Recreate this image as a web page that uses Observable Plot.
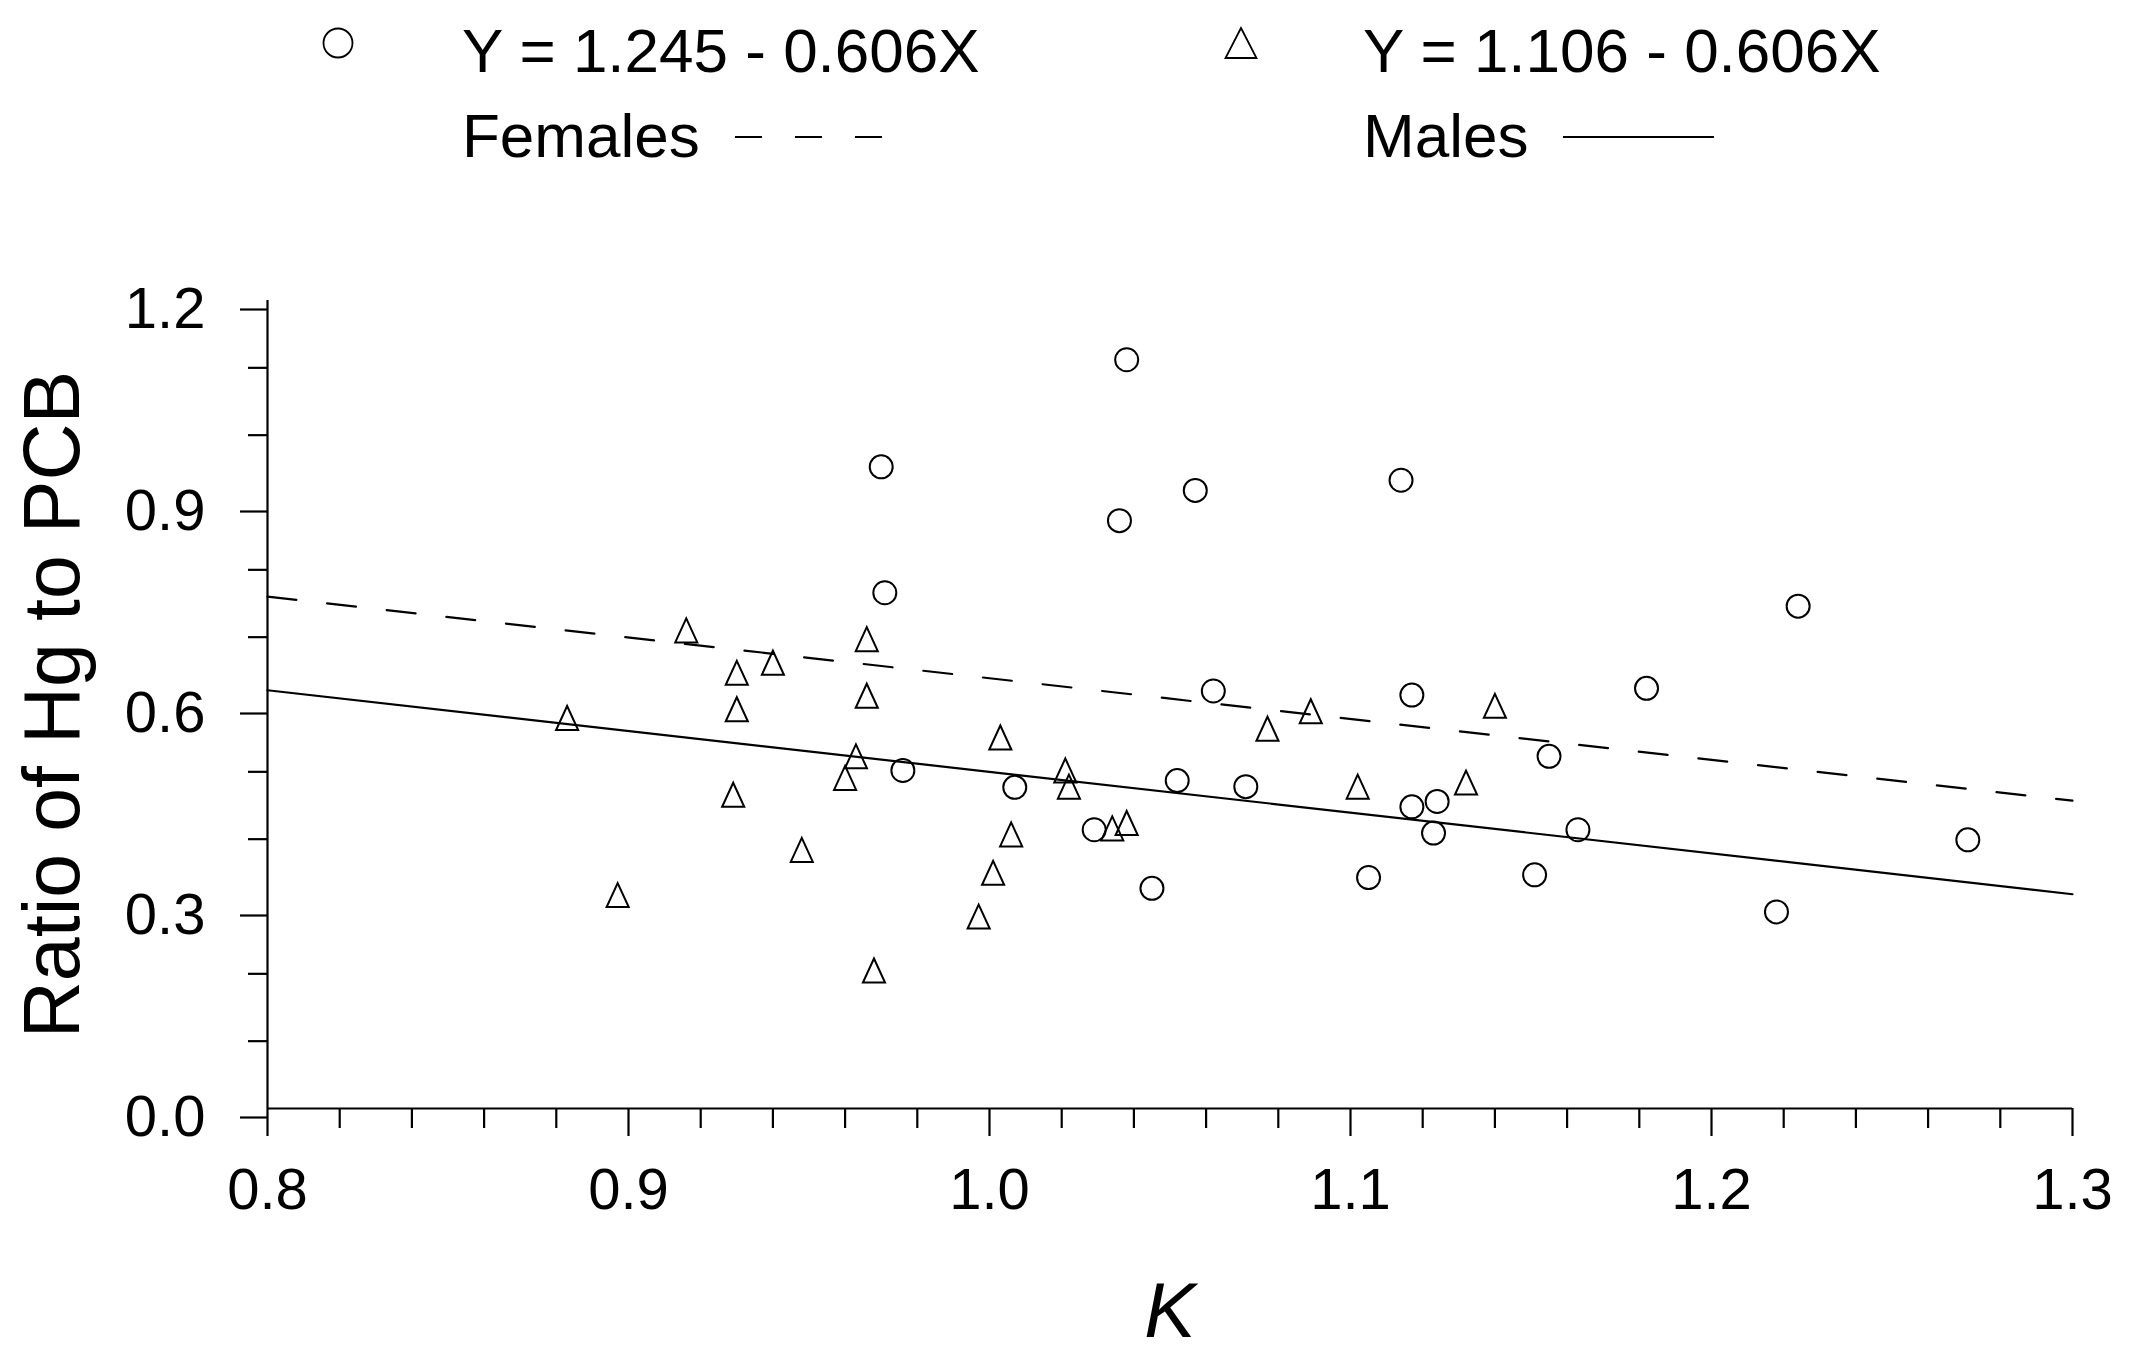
<!DOCTYPE html>
<html>
<head>
<meta charset="utf-8">
<script src="https://cdn.jsdelivr.net/npm/d3@7"></script>
<script src="https://cdn.jsdelivr.net/npm/@observablehq/plot@0.6"></script>
<style>
  html, body { margin: 0; padding: 0; background: #fff; overflow: hidden; }
  #legend { width: 2131px; height: 180px; display: block; }
  #chart svg { display: block; }
</style>
</head>
<body>
<svg id="legend" width="2131" height="180" xmlns="http://www.w3.org/2000/svg"
     font-family="'Liberation Sans', Arial, sans-serif" font-size="62" fill="#000">
  <circle cx="338" cy="43" r="14.5" fill="none" stroke="#000" stroke-width="1.8"></circle>
  <text x="462" y="72">Y = 1.245 - 0.606X</text>
  <text x="462" y="157">Females</text>
  <line x1="735" y1="137" x2="885" y2="137" stroke="#000" stroke-width="2.2" stroke-dasharray="27,33"></line>
  <path d="M1241,28 L1256.5,58 L1225.5,58 Z" fill="none" stroke="#000" stroke-width="1.8"></path>
  <text x="1363" y="72">Y = 1.106 - 0.606X</text>
  <text x="1363" y="157">Males</text>
  <line x1="1563" y1="137" x2="1714" y2="137" stroke="#000" stroke-width="2.2"></line>
</svg>
<div id="chart"></div>
<script>
// Females (circles)
const femaleK = [1.038, 0.970, 1.036, 0.971, 1.057, 0.976, 1.007, 1.029, 1.052, 1.045,
                 1.062, 1.114, 1.117, 1.182, 1.224, 1.155, 1.071, 1.117, 1.124, 1.123,
                 1.163, 1.271, 1.105, 1.151, 1.218];
const femaleRatio = [1.112, 0.953, 0.873, 0.766, 0.918, 0.502, 0.477, 0.414, 0.487, 0.327,
                     0.620, 0.933, 0.614, 0.624, 0.746, 0.523, 0.478, 0.448, 0.456, 0.409,
                     0.414, 0.399, 0.343, 0.347, 0.292];
// Males (triangles)
const maleK = [0.916, 0.930, 0.940, 0.966, 0.966, 0.930, 0.883, 1.003, 0.963, 0.960,
               1.021, 1.022, 0.929, 0.948, 1.006, 1.034, 1.038, 1.001, 0.897, 0.997,
               0.968, 1.077, 1.089, 1.102, 1.132, 1.140];
const maleRatio = [0.710, 0.647, 0.662, 0.697, 0.613, 0.593, 0.580, 0.551, 0.523, 0.491,
                   0.502, 0.478, 0.466, 0.384, 0.407, 0.416, 0.424, 0.350, 0.317, 0.285,
                   0.205, 0.564, 0.590, 0.478, 0.484, 0.598];
// Fitted lines from the legend equations
const lineNames = ["Females", "Males"];
const intercepts = [1.245, 1.106];
const slopes = [-0.606, -0.606];
const lineK = [0.8, 1.3];
// Ticks
const xMajor = [0.8, 0.9, 1.0, 1.1, 1.2, 1.3];
const xMinor = [0.82, 0.84, 0.86, 0.88, 0.92, 0.94, 0.96, 0.98, 1.02, 1.04, 1.06, 1.08,
                1.12, 1.14, 1.16, 1.18, 1.22, 1.24, 1.26, 1.28];
const yMajor = [0.0, 0.3, 0.6, 0.9, 1.2];
const yMinor = [0.1, 0.2, 0.4, 0.5, 0.7, 0.8, 1.0, 1.1];
const xTitle = "K";
const yTitle = "Ratio of Hg to PCB";

const females = femaleK.map((k, i) => ({k, r: femaleRatio[i]}));
const males = maleK.map((k, i) => ({k, r: maleRatio[i]}));
const fits = lineNames.map((name, i) => lineK.map(k => ({name, k, r: intercepts[i] + slopes[i] * k})));

const triangle = {
  draw(context, size) {
    const r = Math.sqrt(size / Math.PI);
    const h = r, w = 0.92 * r;
    context.moveTo(0, -h);
    context.lineTo(w, h);
    context.lineTo(-w, h);
    context.closePath();
  }
};

const fmt = d3.format(".1f");
const sw = 2.2;

const chart = Plot.plot({
  width: 2131,
  height: 1188,
  marginTop: 120,
  marginLeft: 267,
  marginRight: 59,
  marginBottom: 260,
  x: {domain: [0.8, 1.3]},
  y: {domain: [0, 1.2]},
  style: {fontFamily: "'Liberation Sans', Arial, sans-serif", color: "#000", background: "#fff", overflow: "visible"},
  marks: [
    Plot.axisX({ticks: xMajor, tickSize: 28, tickPadding: 31, fontSize: 58, tickFormat: fmt, strokeWidth: sw, label: null}),
    Plot.axisX({ticks: xMinor, tickSize: 20, text: null, strokeWidth: sw, label: null}),
    Plot.axisY({ticks: yMajor, tickSize: 27, tickPadding: 35, fontSize: 58, tickFormat: fmt, strokeWidth: sw, dy: 9, label: null}),
    Plot.axisY({ticks: yMinor, tickSize: 19, text: null, strokeWidth: sw, label: null}),
    Plot.ruleX([0.8], {y1: 0, y2: 1.2, strokeWidth: sw}),
    Plot.ruleY([0], {x1: 0.8, x2: 1.3, strokeWidth: sw}),
    Plot.line(fits[0], {x: "k", y: "r", stroke: "#000", strokeWidth: sw, strokeDasharray: "29,31"}),
    Plot.line(fits[1], {x: "k", y: "r", stroke: "#000", strokeWidth: sw}),
    Plot.dot(females, {x: "k", y: "r", r: 11.5, symbol: "circle", stroke: "#000", strokeWidth: 2, fill: "none"}),
    Plot.dot(males, {x: "k", y: "r", r: 12, symbol: triangle, stroke: "#000", strokeWidth: 2, fill: "none"}),
    Plot.text([yTitle], {frameAnchor: "left", rotate: -90, dx: -214, fontSize: 79, textAnchor: "middle", lineAnchor: "middle"}),
    Plot.text([xTitle], {frameAnchor: "bottom", dy: 174, fontSize: 77, fontStyle: "italic", textAnchor: "middle", lineAnchor: "top"})
  ]
});
document.getElementById("chart").appendChild(chart);
</script>
</body>
</html>
